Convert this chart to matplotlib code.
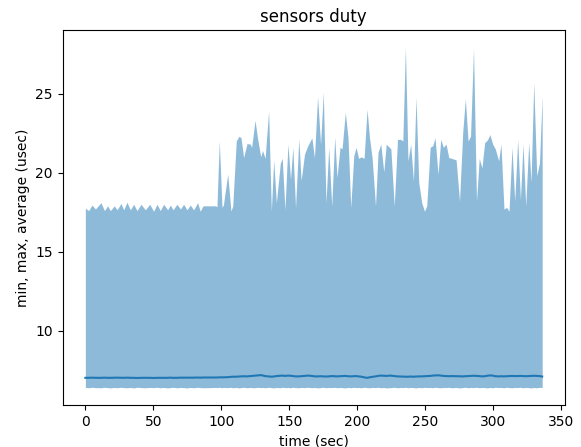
import matplotlib
matplotlib.use("Agg")
import matplotlib.pyplot as plt

#################
# sensors duty  #
#################

time_sec = [
    0, 2.4, 4.9, 7.4, 11.5, 14.0, 16.4, 18.4, 21.3, 23.3,
    26.2, 28.2, 30.6, 33.1, 35.5, 38.0, 40.9, 44.1, 47.3, 50.2,
    52.7, 55.1, 57.6, 60.5, 62.5, 64.5, 67.4, 69.9, 72.3, 74.7,
    77.2, 79.6, 82.6, 84.5, 86.5, 95.6, 96.8, 98.5, 100.5, 101.5,
    104.7, 107.1, 108.4, 111.0, 113.0, 114.5, 116.4, 118.9, 121.3, 122.3,
    124.8, 126.6, 129.0, 130.3, 132.2, 134.8, 136.8, 138.5, 140.5, 143.4,
    144.8, 146.8, 149.0, 150.9, 152.6, 154.6, 157.0, 158.7, 161.2, 163.6,
    166.6, 168.5, 170.8, 173.0, 175.0, 177.0, 179.0, 181.2, 183.4, 185.1,
    187.3, 188.8, 191.2, 193.2, 195.2, 197.4, 199.1, 201.0, 203.0, 205.0,
    207.2, 209.0, 210.9, 213.4, 215.3, 217.3, 219.5, 221.3, 224.7, 227.2,
    229.6, 232.0, 233.5, 235.4, 237.3, 239.3, 241.3, 243.2, 245.2, 247.4,
    249.4, 251.1, 253.6, 255.5, 257.2, 259.4, 261.4, 263.3, 265.3, 267.3,
    269.5, 272.7, 275.2, 277.6, 279.5, 281.5, 283.3, 285.5, 287.7, 289.7,
    291.7, 293.7, 295.6, 297.6, 299.6, 301.5, 304.0, 305.7, 307.9, 309.9,
    311.6, 313.8, 315.8, 318.0, 320.0, 321.9, 323.9, 326.1, 327.8, 329.8,
    332.0, 334.0, 336.0,
]

max_usec = [
    17.75, 17.6, 17.95, 17.7, 18.1, 17.6, 17.9, 17.6, 17.9, 17.65,
    18.05, 17.65, 18.13, 17.65, 18.0, 17.6, 18.0, 17.65, 18.0, 17.56,
    18.0, 17.6, 18.0, 17.65, 17.95, 17.65, 18.0, 17.7, 18.0, 17.65,
    17.95, 17.65, 18.1, 17.56, 17.9, 17.9, 17.85, 22.0, 17.8, 17.95,
    19.9, 17.56, 17.9, 22.0, 22.3, 22.2, 20.95, 21.84, 21.8, 21.6,
    23.3, 22.2, 21.0, 21.4, 20.9, 23.9, 17.56, 20.8, 18.1, 20.6,
    20.9, 17.67, 21.8, 19.58, 21.6, 17.8, 22.15, 19.5, 21.17, 21.7,
    22.2, 20.95, 24.8, 21.8, 25.08, 18.1, 21.6, 17.9, 22.25, 19.7,
    21.6, 21.5, 23.8, 22.2, 17.8, 21.05, 21.6, 20.9, 21.0, 20.9,
    24.0, 22.2, 20.95, 17.9, 21.3, 21.8, 20.05, 21.8, 21.5, 17.9,
    22.1, 22.1, 22.0, 27.94, 20.75, 21.8, 19.47, 24.77, 19.4, 18.1,
    17.56, 17.9, 21.6, 21.7, 22.2, 19.9, 22.1, 21.6, 21.8, 20.95,
    20.9, 20.8, 18.2, 22.6, 24.66, 22.0, 22.3, 27.84, 18.2, 20.9,
    20.3, 21.9, 22.05, 22.4, 21.8, 21.5, 20.75, 21.8, 17.7, 17.8,
    17.56, 21.6, 18.2, 22.1, 18.3, 21.8, 17.9, 21.9, 19.4, 25.7,
    19.8, 20.6, 24.87,
]

min_usec = [
    6.42, 6.40, 6.43, 6.41, 6.40, 6.43, 6.41, 6.39, 6.42, 6.40,
    6.43, 6.41, 6.40, 6.42, 6.39, 6.43, 6.41, 6.40, 6.42, 6.41,
    6.43, 6.40, 6.42, 6.39, 6.41, 6.43, 6.40, 6.42, 6.41, 6.39,
    6.42, 6.40, 6.43, 6.41, 6.40, 6.42, 6.41, 6.43, 6.40, 6.42,
    6.41, 6.43, 6.40, 6.42, 6.39, 6.41, 6.43, 6.40, 6.42, 6.41,
    6.40, 6.43, 6.41, 6.42, 6.40, 6.43, 6.41, 6.39, 6.42, 6.40,
    6.43, 6.41, 6.42, 6.40, 6.43, 6.41, 6.40, 6.42, 6.41, 6.43,
    6.40, 6.42, 6.39, 6.41, 6.43, 6.40, 6.42, 6.41, 6.43, 6.40,
    6.42, 6.41, 6.39, 6.42, 6.40, 6.43, 6.41, 6.42, 6.40, 6.43,
    6.41, 6.40, 6.42, 6.41, 6.43, 6.40, 6.42, 6.39, 6.41, 6.43,
    6.40, 6.42, 6.41, 6.43, 6.40, 6.42, 6.41, 6.39, 6.42, 6.40,
    6.43, 6.41, 6.42, 6.40, 6.43, 6.41, 6.40, 6.42, 6.41, 6.43,
    6.40, 6.42, 6.39, 6.41, 6.43, 6.40, 6.42, 6.41, 6.43, 6.40,
    6.42, 6.41, 6.39, 6.42, 6.40, 6.43, 6.41, 6.42, 6.40, 6.43,
    6.41, 6.40, 6.42, 6.41, 6.43, 6.40, 6.42, 6.41, 6.39, 6.42,
    6.40, 6.43, 6.41,
]

avg_usec = [
    7.03, 7.03, 7.04, 7.03, 7.03, 7.04, 7.03, 7.03, 7.04, 7.04,
    7.03, 7.03, 7.04, 7.03, 7.03, 7.02, 7.03, 7.03, 7.03, 7.02,
    7.03, 7.03, 7.03, 7.03, 7.04, 7.03, 7.03, 7.04, 7.04, 7.04,
    7.04, 7.04, 7.05, 7.04, 7.05, 7.05, 7.05, 7.06, 7.06, 7.06,
    7.07, 7.09, 7.10, 7.10, 7.11, 7.12, 7.13, 7.12, 7.14, 7.15,
    7.17, 7.19, 7.20, 7.18, 7.14, 7.12, 7.10, 7.11, 7.14, 7.16,
    7.17, 7.15, 7.17, 7.16, 7.14, 7.12, 7.12, 7.13, 7.15, 7.17,
    7.15, 7.12, 7.12, 7.13, 7.12, 7.11, 7.12, 7.14, 7.13, 7.12,
    7.13, 7.14, 7.15, 7.13, 7.12, 7.13, 7.14, 7.12, 7.10, 7.06,
    7.03, 7.06, 7.09, 7.12, 7.15, 7.17, 7.16, 7.15, 7.17, 7.14,
    7.12, 7.11, 7.10, 7.10, 7.10, 7.11, 7.10, 7.11, 7.12, 7.12,
    7.13, 7.14, 7.15, 7.17, 7.18, 7.19, 7.17, 7.15, 7.14, 7.13,
    7.14, 7.13, 7.12, 7.12, 7.13, 7.14, 7.15, 7.16, 7.15, 7.14,
    7.12, 7.13, 7.16, 7.18, 7.17, 7.13, 7.12, 7.13, 7.12, 7.13,
    7.14, 7.15, 7.14, 7.14, 7.15, 7.14, 7.13, 7.14, 7.15, 7.16,
    7.15, 7.14, 7.11,
]

fig = plt.figure(figsize=(5.81, 4.47), dpi=100)
ax = fig.add_subplot(111)
fig.subplots_adjust(left=0.1076, right=0.9725, top=0.933, bottom=0.094)

# min..max band, average on top
ax.fill_between(time_sec, min_usec, max_usec, color="C0", alpha=0.5, linewidth=0)
ax.plot(time_sec, avg_usec, color="C0")

ax.set_title("sensors duty")
ax.set_xlabel("time (sec)")
ax.set_ylabel("min, max, average (usec)")

fig.savefig("out.png", dpi=100)
